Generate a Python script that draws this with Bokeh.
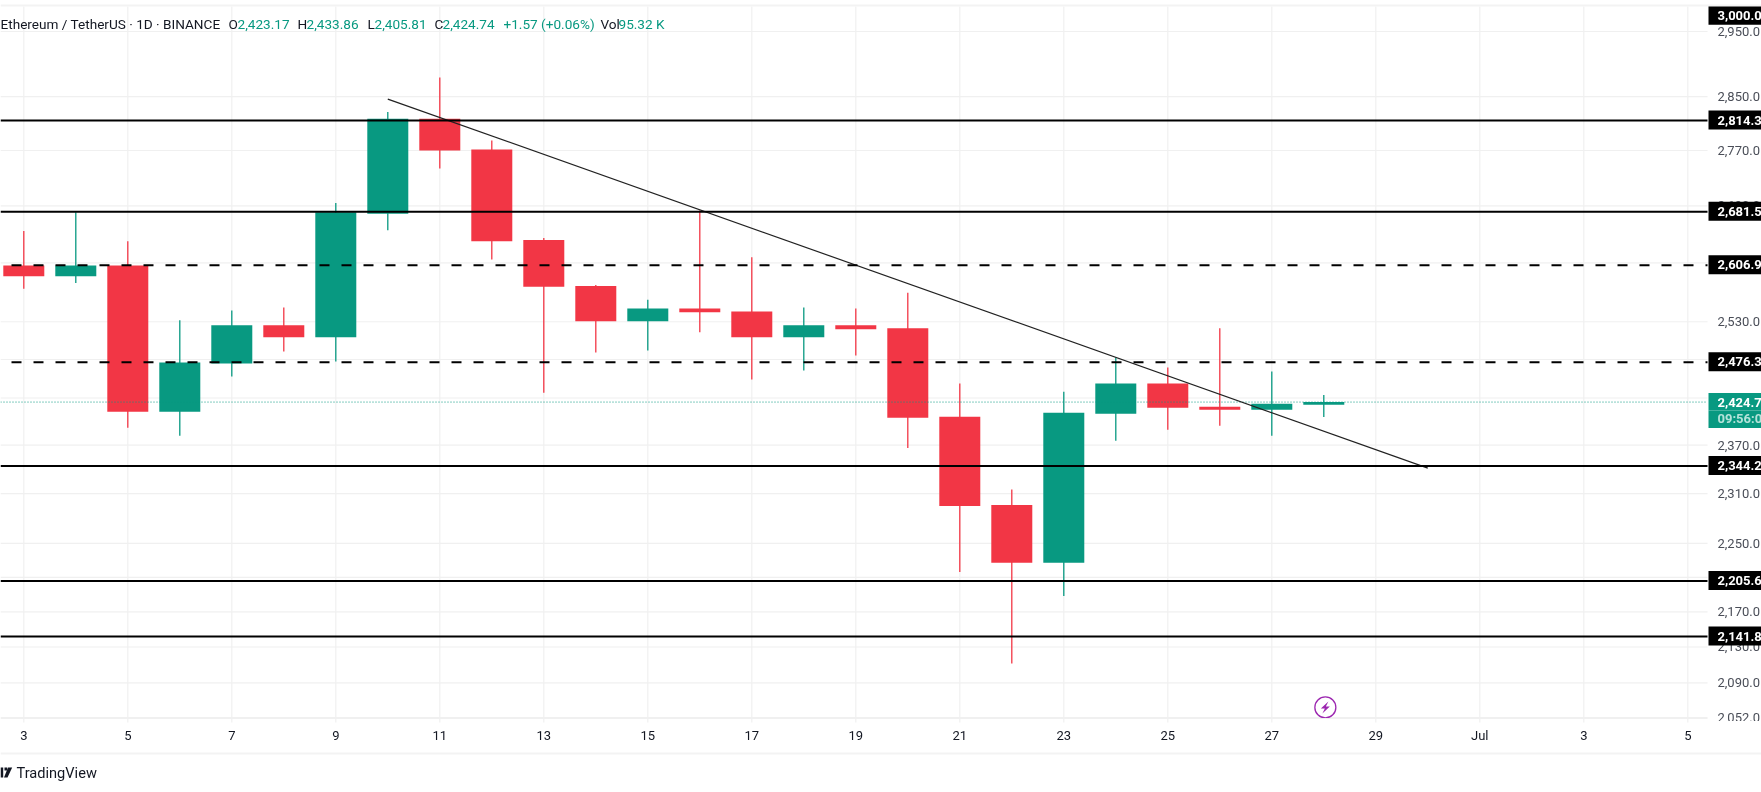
import math
from bokeh.embed import file_html
from bokeh.resources import INLINE
from bokeh.plotting import figure
from bokeh.models import (ColumnDataSource, Range1d, FixedTicker, Label,
                          BoxAnnotation, PolyAnnotation)

# ---- data ----
days = list(range(3, 29))
opens = [2606.5, 2591.8, 2606.5, 2412.4, 2474.6, 2525.2, 2509.3, 2678.7, 2816.8, 2771.5, 2641.7, 2578.5, 2530.6,
         2547.9, 2543.9, 2509.3, 2525.2, 2521.2, 2406.0, 2296.2, 2227.0, 2409.8, 2448.6, 2418.7, 2414.9, 2421.3]
highs = [2654.3, 2681.1, 2640.2, 2531.9, 2545.2, 2549.2, 2694.2, 2827.0, 2879.2, 2784.7, 2644.5, 2579.8, 2559.8,
         2683.5, 2617.7, 2549.2, 2547.9, 2569.2, 2448.6, 2315.2, 2438.1, 2482.6, 2469.4, 2521.2, 2464.2, 2433.86]
lows = [2574.5, 2582.5, 2392.1, 2381.9, 2457.7, 2490.6, 2477.2, 2655.7, 2743.8, 2614.9, 2436.8, 2489.2, 2491.9,
        2515.9, 2453.8, 2465.5, 2485.2, 2366.6, 2216.3, 2111.6, 2188.2, 2375.5, 2389.5, 2394.6, 2381.9, 2405.81]
closes = [2591.8, 2606.5, 2412.4, 2475.9, 2525.2, 2509.3, 2681.1, 2816.8, 2770.1, 2640.2, 2577.2, 2530.6, 2547.9,
          2542.6, 2509.3, 2525.2, 2519.9, 2404.8, 2295.0, 2227.0, 2411.1, 2448.6, 2417.5, 2414.9, 2422.5, 2424.74]

solid_levels = [2814.3, 2681.5, 2344.2, 2205.6, 2141.8]
dashed_levels = [2606.9, 2476.3]
level_labels = {3000.0: "3,000.0", 2814.3: "2,814.3", 2681.5: "2,681.5", 2606.9: "2,606.9", 2476.3: "2,476.3",
                2344.2: "2,344.2", 2205.6: "2,205.6", 2141.8: "2,141.8"}
last_price = 2424.74
last_price_label = "2,424.7"
countdown_label = "09:56:0"

trend_days = [10, 30]
trend_prices = [2846.4, 2341.5]

x_ticks = [3, 5, 7, 9, 11, 13, 15, 17, 19, 21, 23, 25, 27, 29, 31, 33, 35]
x_labels = {d: str(d) for d in x_ticks}
x_labels[31] = "Jul"
x_labels[33] = "3"
x_labels[35] = "5"

y_ticks = [2950, 2850, 2770, 2690, 2610, 2530, 2480, 2430, 2370, 2310, 2250, 2210, 2170, 2130, 2090, 2052]
y_labels = {v: f"{v:,}.0" for v in y_ticks}
y_labels[2610] = ""
y_labels[2480] = ""

header_parts = [
    ("Ethereum / TetherUS · 1D · BINANCE", 0, "#131722"),
    ("O", 228, "#131722"), ("2,423.17", 237, "#089981"),
    ("H", 297, "#131722"), ("2,433.86", 306, "#089981"),
    ("L", 367, "#131722"), ("2,405.81", 374, "#089981"),
    ("C", 434, "#131722"), ("2,424.74", 442, "#089981"),
    ("+1.57 (+0.06%)", 503, "#089981"),
    ("Vol", 600, "#131722"), ("95.32 K", 618, "#089981"),
]

event_day = 28.03
event_price = 2063.0

# ---- styles ----
UP = "#089981"
DOWN = "#F23645"
GRID = "#f0f0f0"
BAND = "#f3f3f3"
FONT = "Roboto"
colors = [UP if c >= o else DOWN for o, c in zip(opens, closes)]

W, H = 1761, 792
PX_PER_DAY = 52.0
PX_PER_LOG = 1889.9
SHIFT = 1.0  # px the price scale is moved up
X_LEFT = 2.552
X_RIGHT = X_LEFT + W / PX_PER_DAY
X_AXIS = X_LEFT + 1707 / PX_PER_DAY     # right edge of the chart pane
Y_TOP = 3000.4 * math.exp(-SHIFT / PX_PER_LOG)
Y_BOTTOM = 1973.2 * math.exp(-SHIFT / PX_PER_LOG)
PANE_TOP = 2990.9 * math.exp(-SHIFT / PX_PER_LOG)
PANE_BOTTOM = 2052 * math.exp(-SHIFT / PX_PER_LOG)
TICK_BOTTOM = PANE_BOTTOM * math.exp(-4 / PX_PER_LOG)


def up_px(price, px):
    """Price that lies px screen pixels above the given price on the log scale."""
    return price * math.exp(px / PX_PER_LOG)


src = ColumnDataSource(dict(x=days, o=opens, h=highs, l=lows, c=closes, color=colors,
                            top=[max(a, b) for a, b in zip(opens, closes)],
                            bottom=[min(a, b) for a, b in zip(opens, closes)]))

p = figure(frame_width=W, frame_height=H, y_axis_type="log", y_axis_location="right",
           x_range=Range1d(X_LEFT, X_RIGHT), y_range=Range1d(Y_BOTTOM, Y_TOP),
           output_backend="svg", toolbar_location=None,
           min_border_left=0, min_border_right=0, min_border_top=0, min_border_bottom=0,
           background_fill_color="white", border_fill_color="white",
           styles={"position": "fixed", "left": "0px", "top": "0px"})
p.outline_line_color = None
p.xgrid.visible = False
p.ygrid.visible = False

p.xaxis.fixed_location = PANE_BOTTOM
p.xaxis.bounds = (X_LEFT, X_AXIS)
p.xaxis.ticker = FixedTicker(ticks=x_ticks)
p.xaxis.major_label_overrides = x_labels
p.xaxis.axis_line_color = GRID
p.xaxis.axis_line_width = 1.2
p.xaxis.major_tick_line_color = None
p.xaxis.major_tick_out = 4
p.xaxis.major_tick_in = 0
p.xaxis.minor_tick_line_color = None
p.xaxis.major_label_standoff = 6
p.xaxis.major_label_text_font = FONT
p.xaxis.major_label_text_font_size = "13px"
p.xaxis.major_label_text_color = "#131722"

p.yaxis.fixed_location = X_AXIS
p.yaxis.ticker = FixedTicker(ticks=y_ticks)
p.yaxis.major_label_overrides = y_labels
p.yaxis.axis_line_color = None
p.yaxis.major_tick_line_color = None
p.yaxis.minor_tick_line_color = None
p.yaxis.major_tick_out = 0
p.yaxis.major_tick_in = 0
p.yaxis.major_label_standoff = 10
p.yaxis.major_label_text_font = FONT
p.yaxis.major_label_text_font_size = "13px"
p.yaxis.major_label_text_color = "#4a4e58"

# grid of the pane
p.segment(x_ticks, [PANE_TOP] * len(x_ticks), x_ticks, [TICK_BOTTOM] * len(x_ticks),
          line_color=GRID, line_width=1.2)
p.segment([X_LEFT] * len(y_ticks), y_ticks, [X_AXIS] * len(y_ticks), y_ticks,
          line_color=GRID, line_width=1.2)

p.segment("x", "h", "x", "l", source=src, line_color="color", line_width=1.3)
p.vbar(x="x", width=41 / PX_PER_DAY, top="top", bottom="bottom", source=src,
       fill_color="color", line_color=None)

p.line([X_LEFT, X_AXIS], [last_price, last_price], line_color=UP, line_width=1, line_dash=[1, 2])
p.line(trend_days, trend_prices, line_color="#222222", line_width=1.2)

for v in solid_levels:
    p.line([X_LEFT, X_AXIS], [v, v], line_color="black", line_width=2)
for v in dashed_levels:
    p.line([X_LEFT, X_AXIS], [v, v], line_color="black", line_width=2, line_dash=[10, 12], line_dash_offset=11)

# event icon
p.scatter([event_day], [event_price], size=21, marker="circle", fill_color="white",
          line_color="#9c27b0", line_width=1.3)
bolt = [(3, -6), (-4.5, 1), (-0.5, 1), (-3, 6), (4.5, -1), (0.5, -1)]
p.patch([event_day + a / PX_PER_DAY for a, b in bolt],
        [event_price * math.exp(-b / PX_PER_LOG) for a, b in bolt],
        fill_color="#9c27b0", line_color=None)


def price_tag(text, y, top, bottom, fill, color):
    p.add_layout(BoxAnnotation(left=1708, right=W, top=top, bottom=bottom,
                               left_units="canvas", right_units="canvas",
                               top_units="data", bottom_units="data",
                               fill_color=fill, fill_alpha=1, line_color=None))
    p.add_layout(Label(x=1717, y=y, x_units="canvas", y_units="data", text=text,
                       text_font=FONT, text_font_size="13px", text_font_style="bold",
                       text_color=color, text_baseline="middle"))


# price labels
for v, txt in level_labels.items():
    y = up_px(v, -15.5) if v == 3000.0 else up_px(v, 0.5)
    price_tag(txt, y, up_px(y, 9.5), up_px(y, -9.5), "black", "white")
price_tag(last_price_label, last_price, up_px(last_price, 9), up_px(last_price, -8.5), UP, "white")
low_y = up_px(last_price, -16)
price_tag(countdown_label, low_y, up_px(last_price, -8.5), up_px(last_price, -26), UP, "#b5e3da")

# header
for txt, x, col in header_parts:
    p.add_layout(Label(x=x, y=23.7, x_units="canvas", y_units="canvas", text=txt,
                       text_font=FONT, text_font_size="13.6px", text_color=col, text_baseline="middle"))

# watermark
p.add_layout(Label(x=16, y=772, x_units="canvas", y_units="canvas", text="TradingView",
                   text_font=FONT, text_font_size="14.6px", text_color="#131722", text_baseline="middle"))
logo_color = "#131722"
p.add_layout(PolyAnnotation(xs=[0, 2.7, 2.7, 0], ys=[767, 767, 777, 777], xs_units="canvas", ys_units="canvas",
                            fill_color=logo_color, fill_alpha=1, line_color=None))
p.add_layout(PolyAnnotation(xs=[4, 6.7, 6.7, 4], ys=[767, 767, 770, 770], xs_units="canvas", ys_units="canvas",
                            fill_color=logo_color, fill_alpha=1, line_color=None))
p.add_layout(PolyAnnotation(xs=[7.5, 11.7, 7, 3.5], ys=[767, 767, 777, 777], xs_units="canvas", ys_units="canvas",
                            fill_color=logo_color, fill_alpha=1, line_color=None))

# chrome bands and the clipped bottom of the price scale
for top, bottom in [(4, 6), (752, 754)]:
    p.add_layout(BoxAnnotation(left=0, right=W, top=top, bottom=bottom,
                               left_units="canvas", right_units="canvas",
                               top_units="canvas", bottom_units="canvas",
                               fill_color=BAND, fill_alpha=1, line_color=None))
p.add_layout(BoxAnnotation(left=1708, right=W, top=720.5, bottom=751,
                           left_units="canvas", right_units="canvas",
                           top_units="canvas", bottom_units="canvas",
                           fill_color="white", fill_alpha=1, line_color=None))

open("out.html", "w").write(file_html(p, INLINE))
